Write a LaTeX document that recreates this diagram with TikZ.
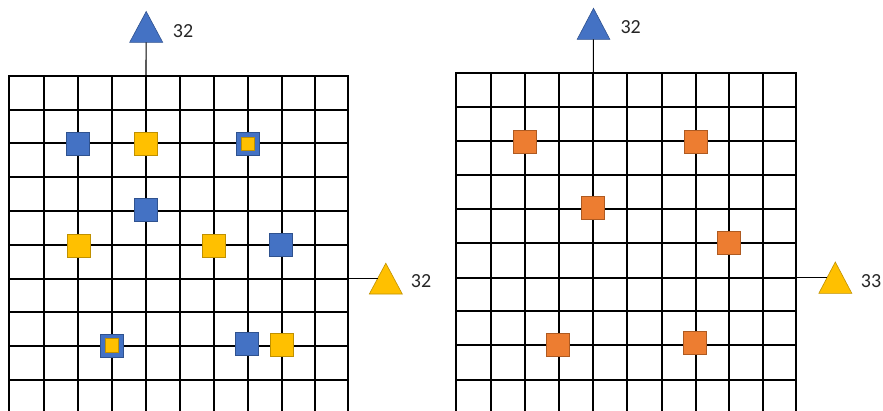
\documentclass[tikz,border=0pt]{standalone}
\usepackage{fontspec}
\setmainfont{Carlito}
\definecolor{GridBlue}{RGB}{68,114,196}
\definecolor{GridBlueLine}{RGB}{47,82,143}
\definecolor{GridYellow}{RGB}{255,192,0}
\definecolor{GridYellowLine}{RGB}{191,144,0}
\definecolor{GridOrange}{RGB}{237,125,49}
\definecolor{GridOrangeLine}{RGB}{174,90,33}
\definecolor{GridText}{RGB}{38,38,38}

\begin{document}
\begin{tikzpicture}[x=1pt,y=-1pt,
   gline/.style={line width=2pt,line cap=rect},
   axline/.style={line width=1.1pt},
   sq/.style n args={3}{rectangle,fill=#1,draw=#2,minimum size=#3pt,inner sep=0pt,line width=0.6pt},
   tri/.style n args={2}{fill=#1,draw=#2,line width=0.6pt,line join=miter},
   lbl/.style={text=GridText,font=\fontsize{20}{24}\selectfont,inner sep=0pt}]
\useasboundingbox (0,0) rectangle (883,410);
% left map
\foreach \x in {9.3,43.7,78,112,146,180,214.3,248.3,282,315,347.7} {
   \draw[gline] (\x,76) -- (\x,416);
}
\foreach \y in {76,109.5,143.3,177.3,210.5,244.5,278.5,312.3,346,380} {
   \draw[gline] (9.3,\y) -- (347.7,\y);
}
% right map
\foreach \x in {456,490.7,524.7,558.7,593.3,627.3,661.7,696,729.3,762.7,796.3} {
   \draw[gline] (\x,72.7) -- (\x,416);
}
\foreach \y in {72.7,107.3,141.3,175.3,209.3,243.3,277.7,311,345.3,380} {
   \draw[gline] (456,\y) -- (796.3,\y);
}
% axis markers
\draw[tri={GridBlue}{GridBlueLine}] (129.7,42.3) -- (146.2,11.5) -- (162.7,42.3) -- cycle;
\draw[tri={GridYellow}{GridYellowLine}] (369.3,294) -- (385.8,263.2) -- (402.3,294) -- cycle;
\draw[tri={GridBlue}{GridBlueLine}] (577.2,39.3) -- (593.5,8.3) -- (609.8,39.3) -- cycle;
\draw[tri={GridYellow}{GridYellowLine}] (818.8,293.3) -- (835.3,262) -- (851.8,293.3) -- cycle;
\coordinate (topL) at (146,76);
\coordinate (sideL) at (347.7,278.5);
\coordinate (topR) at (593.3,72.7);
\coordinate (sideR) at (796.3,277.7);
\coordinate (triLA) at (146.1,42.3);
\coordinate (triLB) at (377.5,278.5);
\coordinate (triRA) at (593.4,39.3);
\coordinate (triRB) at (827,277.7);
\draw[axline] (topL) -- (triLA);
\draw[axline] (sideL) -- (triLB);
\draw[axline] (topR) -- (triRA);
\draw[axline] (sideR) -- (triRB);
\node[lbl] (labLA) at (183,30.7) {32};
\node[lbl] (labLB) at (421,281) {32};
\node[lbl] (labRA) at (630.7,26.7) {32};
\node[lbl] (labRB) at (871,280.7) {33};
% left points
\node[sq={GridBlue}{GridBlueLine}{23}] (b1) at (77.8,143.7) {};
\node[sq={GridYellow}{GridYellowLine}{23}] (y1) at (145.7,143.7) {};
\node[sq={GridBlue}{GridBlueLine}{23}] (b2) at (247.8,143.7) {};
\node[sq={GridYellow}{GridYellowLine}{13.5}] (y2) at (247.8,143.7) {};
\node[sq={GridBlue}{GridBlueLine}{23}] (b3) at (145.5,209.5) {};
\node[sq={GridYellow}{GridYellowLine}{23}] (y3) at (78.8,245.5) {};
\node[sq={GridYellow}{GridYellowLine}{23}] (y4) at (213.3,245.8) {};
\node[sq={GridBlue}{GridBlueLine}{23}] (b4) at (280.5,244.5) {};
\node[sq={GridBlue}{GridBlueLine}{23}] (b5) at (112,345.5) {};
\node[sq={GridYellow}{GridYellowLine}{13.5}] (y5) at (112,345.5) {};
\node[sq={GridBlue}{GridBlueLine}{23}] (b6) at (246.7,343.8) {};
\node[sq={GridYellow}{GridYellowLine}{23}] (y6) at (282,344.5) {};
% right points
\node[sq={GridOrange}{GridOrangeLine}{23}] (o1) at (524.3,141.7) {};
\node[sq={GridOrange}{GridOrangeLine}{23}] (o2) at (695.8,142) {};
\node[sq={GridOrange}{GridOrangeLine}{23}] (o3) at (593,208) {};
\node[sq={GridOrange}{GridOrangeLine}{23}] (o4) at (728.8,243) {};
\node[sq={GridOrange}{GridOrangeLine}{23}] (o5) at (558,345) {};
\node[sq={GridOrange}{GridOrangeLine}{23}] (o6) at (694.8,343.2) {};
\end{tikzpicture}
\end{document}
